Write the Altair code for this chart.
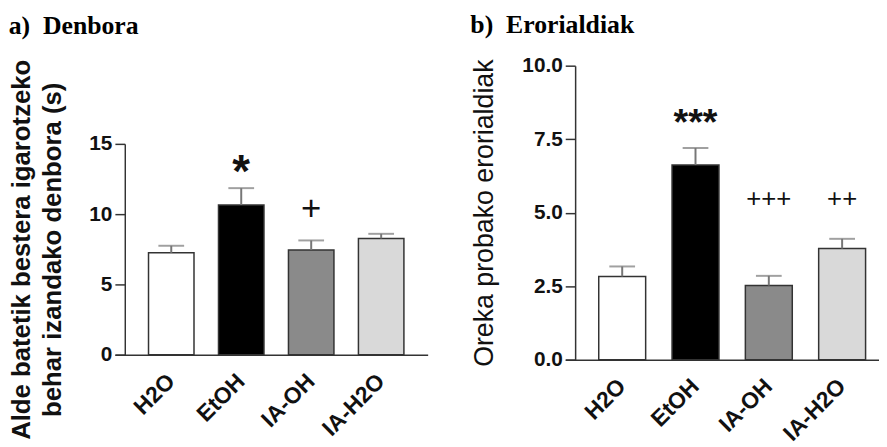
import altair as alt
import pandas as pd

groups = ["H2O", "EtOH", "IA-OH", "IA-H2O"]
fills = ["#ffffff", "#000000", "#8a8a8a", "#d9d9d9"]

time_mean = [7.25, 10.65, 7.45, 8.27]
time_sem = [0.50, 1.20, 0.68, 0.33]
time_sig = ["", "*", "+", ""]
time_sig_level = [0, 11.9, 9.55, 0]

falls_mean = [2.83, 6.62, 2.52, 3.78]
falls_sem = [0.34, 0.58, 0.33, 0.33]
falls_sig = ["", "***", "+++", "++"]
falls_sig_level = [0, 7.65, 5.20, 5.20]

SANS = "Liberation Sans"
SERIF = "Liberation Serif"


def panel(mean, sem, sig, level, title, title_offset, ytitle, ytitle_weight, ytitle_size,
          ydomain, yticks, yfmt, width, height, yrange, pad_inner, pad_outer, align,
          star_size, plus_size):
    df = pd.DataFrame({
        "group": groups,
        "mean": mean,
        "sem": sem,
        "sig": sig,
        "level": level,
    })
    df["top"] = df["mean"] + df["sem"]

    x = alt.X(
        "group:N",
        sort=groups,
        scale=alt.Scale(paddingInner=pad_inner, paddingOuter=pad_outer, align=align),
        axis=alt.Axis(
            title=None, labelAngle=-45, labelAlign="right", labelBaseline="middle",
            labelFont=SANS, labelFontSize=23, labelFontWeight="bold", labelColor="#111",
            ticks=False, labelPadding=23, domainColor="#333", domainWidth=1.5,
        ),
    )
    y_scale = alt.Scale(domain=ydomain, range=yrange, nice=False, zero=True)

    bars = alt.Chart(df).mark_bar(stroke="#333", strokeWidth=1.5).encode(
        x=x,
        y=alt.Y(
            "mean:Q",
            scale=y_scale,
            axis=alt.Axis(
                title=ytitle, values=yticks, format=yfmt, offset=-10, tickSize=10,
                grid=False, domainColor="#333", domainWidth=1.5, tickColor="#333",
                tickWidth=1.5, labelFont=SANS, labelFontSize=21, labelFontWeight="bold",
                labelColor="#111", labelPadding=3, titleFont=SANS, titleFontSize=ytitle_size,
                titleFontWeight=ytitle_weight, titleColor="#111", titlePadding=24,
                titleLineHeight=31,
            ),
        ),
        fill=alt.Fill("group:N", scale=alt.Scale(domain=groups, range=fills), legend=None),
    )
    err = alt.Chart(df).mark_rule(color="#777", strokeWidth=2).encode(
        x=alt.X("group:N", sort=groups), y="mean:Q", y2="top:Q"
    )
    cap = alt.Chart(df).mark_tick(color="#777", thickness=2, size=26).encode(
        x=alt.X("group:N", sort=groups), y="top:Q"
    )
    stars = alt.Chart(df).transform_filter("indexof(datum.sig, '*') >= 0").mark_text(
        font=SANS, fontSize=star_size, fontWeight="bold", color="#111", baseline="alphabetic"
    ).encode(x=alt.X("group:N", sort=groups), y="level:Q", text="sig:N")
    plus = alt.Chart(df).transform_filter("indexof(datum.sig, '+') >= 0").mark_text(
        font=SANS, fontSize=plus_size, color="#111", baseline="alphabetic"
    ).encode(x=alt.X("group:N", sort=groups), y="level:Q", text="sig:N")

    return alt.layer(bars, err, cap, stars, plus).properties(
        width=width,
        height=height,
        title=alt.TitleParams(
            title, anchor="start", font=SERIF, fontSize=26, fontWeight="bold",
            color="#000", offset=title_offset,
        ),
    )


pa = panel(time_mean, time_sem, time_sig, time_sig_level, "a)\u00a0\u00a0Denbora", 20,
           ["Alde batetik bestera igarotzeko", "behar izandako denbora (s)"], "bold", 26,
           [0, 15], [0, 5, 10, 15], "d", 316, 292, [292, 79], 0.35, 0.41, 0.586, 46, 35)
pb = panel(falls_mean, falls_sem, falls_sig, falls_sig_level, "b)\u00a0\u00a0Erorialdiak", 17,
           "Oreka probako erorialdiak", "normal", 27,
           [0, 10], [0, 2.5, 5, 7.5, 10], ".1f", 317, 297, [297, 0], 0.36, 0.32, 0.714, 38, 26)

chart = alt.hconcat(pa, pb, spacing=43).properties(
    padding={"left": 0, "top": 2, "right": 0, "bottom": 0}
).configure_view(stroke=None)

chart.save("out.html", embed_options={"renderer": "svg", "actions": False})
